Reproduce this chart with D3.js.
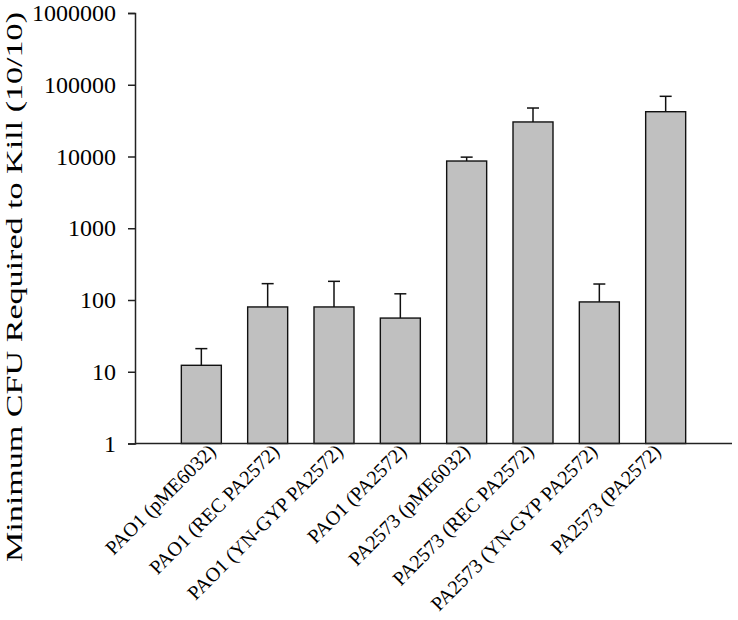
<!DOCTYPE html>
<html>
<head>
<meta charset="utf-8">
<script src="https://cdn.jsdelivr.net/npm/d3@7"></script>
<style>
  html, body { margin: 0; padding: 0; background: #fff; }
  svg { display: block; }
  text { font-family: "Liberation Serif", "Times New Roman", serif; fill: #000; }
</style>
</head>
<body>
<svg id="chart" width="738" height="620"></svg>
<script>
const categories = [
  "PAO1 (pME6032)",
  "PAO1 (REC PA2572)",
  "PAO1 (YN-GYP PA2572)",
  "PAO1 (PA2572)",
  "PA2573 (pME6032)",
  "PA2573 (REC PA2572)",
  "PA2573 (YN-GYP PA2572)",
  "PA2573 (PA2572)"
];
const means = [12.3, 80, 80, 56, 8650, 30300, 94, 42100];
const errorTops = [21, 169, 182, 122, 9800, 47400, 167, 69000];
const yTicks = [1, 10, 100, 1000, 10000, 100000, 1000000];
const yLabel = "Minimum CFU Required to Kill (10/10)";

(function () {
const svg = d3.select("#chart");
const mLeft = 135, mRight = 732, mTop = 13, mBottom = 443.5;

const x = d3.scalePoint().domain(categories).range([mLeft, mRight]).padding(1);
const xLab = d3.scalePoint().domain(categories).range([217, 662]);
const y = d3.scaleLog().domain([1, 1000000]).range([mBottom, mTop]);
const barW = 40;

// bars
svg.append("g").selectAll("rect")
  .data(categories)
  .join("rect")
  .attr("x", d => x(d) - barW / 2)
  .attr("y", (d, i) => y(means[i]))
  .attr("width", barW)
  .attr("height", (d, i) => mBottom - y(means[i]))
  .attr("fill", "#c0c0c0")
  .attr("stroke", "#111")
  .attr("stroke-width", 1.4);

// error bars (upper only)
const eg = svg.append("g").attr("stroke", "#111").attr("stroke-width", 1.5);
categories.forEach((c, i) => {
  eg.append("line")
    .attr("x1", x(c)).attr("x2", x(c))
    .attr("y1", y(means[i])).attr("y2", y(errorTops[i]));
  eg.append("line")
    .attr("x1", x(c) - 6).attr("x2", x(c) + 6)
    .attr("y1", y(errorTops[i])).attr("y2", y(errorTops[i]));
});

// y axis
const yAxis = d3.axisLeft(y).tickValues(yTicks).tickFormat(d3.format("d")).tickSize(7).tickPadding(12);
const yg = svg.append("g").attr("transform", `translate(${mLeft},0)`).call(yAxis);
yg.attr("font-family", null).attr("font-size", null);
yg.select(".domain").attr("stroke", "#222").attr("stroke-width", 1.5);
yg.selectAll(".tick line").attr("stroke", "#222").attr("stroke-width", 1.5);
yg.selectAll(".tick text").attr("font-size", 24).attr("fill", "#000");

// x axis line
svg.append("line")
  .attr("x1", mLeft).attr("x2", mRight)
  .attr("y1", mBottom).attr("y2", mBottom)
  .attr("stroke", "#222").attr("stroke-width", 1.5);

// x labels
svg.append("g").selectAll("text")
  .data(categories)
  .join("text")
  .attr("transform", d => `translate(${xLab(d)},${mBottom + 9}) rotate(-45)`)
  .attr("text-anchor", "end")
  .attr("font-size", 20)
  .text(d => d);

// y label
svg.append("text")
  .attr("transform", `translate(22,${(11 + 563) / 2}) rotate(-90)`)
  .attr("text-anchor", "middle")
  .attr("font-size", 23)
  .attr("textLength", 550)
  .attr("lengthAdjust", "spacingAndGlyphs")
  .text(yLabel);
})();
</script>
</body>
</html>
